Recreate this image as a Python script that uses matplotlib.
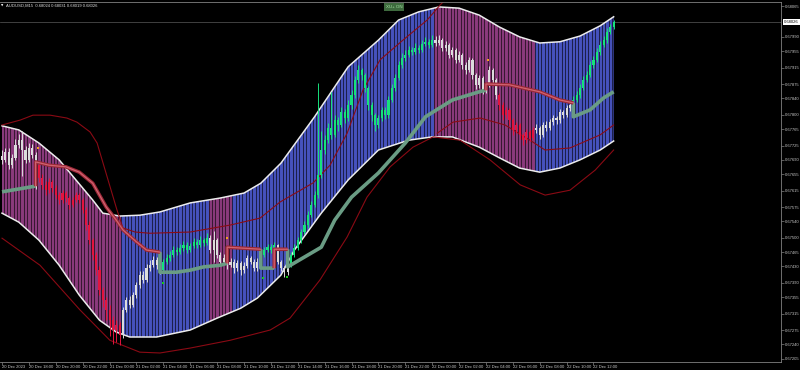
import matplotlib
matplotlib.use("Agg")
import numpy as np
import matplotlib.pyplot as plt
from matplotlib.patches import Polygon

# ---- candles (AUDUSD M15, 20 Dec 16:00 -> 22 Dec 13:30) ----
first_open = 0.67700
closes = [
    0.67690, 0.67709, 0.67677, 0.67695, 0.67726, 0.67738, 0.67714, 0.67690, 0.67719, 0.67702,
    0.67677, 0.67646, 0.67629, 0.67616, 0.67636, 0.67621, 0.67604, 0.67592, 0.67609, 0.67597,
    0.67580, 0.67592, 0.67604, 0.67592, 0.67568, 0.67531, 0.67494, 0.67458, 0.67421, 0.67372,
    0.67348, 0.67324, 0.67299, 0.67275, 0.67287, 0.67263, 0.67324, 0.67348, 0.67336, 0.67360,
    0.67385, 0.67409, 0.67397, 0.67426, 0.67433, 0.67446, 0.67433, 0.67421, 0.67441, 0.67450,
    0.67458, 0.67470, 0.67465, 0.67475, 0.67482, 0.67470, 0.67480, 0.67490, 0.67482, 0.67494,
    0.67487, 0.67499, 0.67470, 0.67494, 0.67458, 0.67441, 0.67450, 0.67433, 0.67441, 0.67426,
    0.67438, 0.67421, 0.67431, 0.67450, 0.67441, 0.67426, 0.67441, 0.67458, 0.67470, 0.67477,
    0.67470, 0.67482, 0.67441, 0.67426, 0.67416, 0.67433, 0.67458, 0.67475, 0.67494, 0.67514,
    0.67531, 0.67555, 0.67580, 0.67604, 0.67653, 0.67714, 0.67738, 0.67768, 0.67751, 0.67787,
    0.67775, 0.67807, 0.67792, 0.67824, 0.67848, 0.67885, 0.67909, 0.67897, 0.67865, 0.67824,
    0.67799, 0.67775, 0.67792, 0.67812, 0.67799, 0.67836, 0.67865, 0.67890, 0.67921, 0.67938,
    0.67946, 0.67958, 0.67953, 0.67963, 0.67958, 0.67973, 0.67978, 0.67970, 0.67982, 0.67975,
    0.67982, 0.67963, 0.67970, 0.67946, 0.67958, 0.67934, 0.67946, 0.67921, 0.67909, 0.67934,
    0.67897, 0.67873, 0.67890, 0.67860, 0.67873, 0.67909, 0.67885, 0.67848, 0.67824, 0.67799,
    0.67812, 0.67787, 0.67763, 0.67775, 0.67751, 0.67738, 0.67758, 0.67743, 0.67763, 0.67768,
    0.67751, 0.67775, 0.67768, 0.67782, 0.67792, 0.67787, 0.67807, 0.67799, 0.67816, 0.67824,
    0.67836, 0.67848, 0.67865, 0.67885, 0.67897, 0.67921, 0.67934, 0.67953, 0.67970, 0.67982,
    0.68002, 0.68014, 0.68026,
]
highs = [
    0.67715, 0.67720, 0.67718, 0.67705, 0.67740, 0.67752, 0.67760, 0.67725, 0.67730, 0.67728,
    0.67710, 0.67682, 0.67655, 0.67638, 0.67645, 0.67642, 0.67628, 0.67612, 0.67616, 0.67615,
    0.67603, 0.67600, 0.67612, 0.67610, 0.67598, 0.67575, 0.67540, 0.67500, 0.67465, 0.67430,
    0.67380, 0.67355, 0.67335, 0.67310, 0.67300, 0.67295, 0.67330, 0.67355, 0.67358, 0.67368,
    0.67392, 0.67418, 0.67420, 0.67435, 0.67445, 0.67455, 0.67452, 0.67440, 0.67448, 0.67460,
    0.67468, 0.67480, 0.67478, 0.67486, 0.67492, 0.67490, 0.67488, 0.67500, 0.67496, 0.67505,
    0.67500, 0.67512, 0.67506, 0.67516, 0.67500, 0.67465, 0.67460, 0.67456, 0.67450, 0.67448,
    0.67445, 0.67444, 0.67440, 0.67458, 0.67456, 0.67448, 0.67450, 0.67466, 0.67478, 0.67486,
    0.67484, 0.67490, 0.67486, 0.67446, 0.67432, 0.67440, 0.67465, 0.67484, 0.67502, 0.67522,
    0.67540, 0.67565, 0.67590, 0.67615, 0.67878, 0.67760, 0.67750, 0.67780, 0.67855, 0.67800,
    0.67795, 0.67820, 0.67815, 0.67835, 0.67860, 0.67895, 0.67922, 0.67915, 0.67902, 0.67870,
    0.67830, 0.67805, 0.67800, 0.67820, 0.67818, 0.67845, 0.67875, 0.67900, 0.67932, 0.67950,
    0.67958, 0.67968, 0.67965, 0.67975, 0.67970, 0.67982, 0.67990, 0.67985, 0.67995, 0.67992,
    0.67995, 0.67988, 0.67980, 0.67975, 0.67966, 0.67962, 0.67955, 0.67950, 0.67928, 0.67940,
    0.67938, 0.67902, 0.67898, 0.67895, 0.67880, 0.67918, 0.67914, 0.67890, 0.67852, 0.67830,
    0.67820, 0.67816, 0.67792, 0.67782, 0.67780, 0.67756, 0.67765, 0.67762, 0.67770, 0.67778,
    0.67772, 0.67782, 0.67785, 0.67790, 0.67800, 0.67798, 0.67815, 0.67812, 0.67825, 0.67832,
    0.67845, 0.67858, 0.67875, 0.67894, 0.67906, 0.67930, 0.67944, 0.67962, 0.67980, 0.67992,
    0.68012, 0.68022, 0.68031,
]
lows = [
    0.67680, 0.67684, 0.67668, 0.67670, 0.67690, 0.67720, 0.67650, 0.67682, 0.67685, 0.67695,
    0.67620, 0.67636, 0.67620, 0.67605, 0.67610, 0.67612, 0.67596, 0.67582, 0.67585, 0.67588,
    0.67570, 0.67575, 0.67588, 0.67585, 0.67560, 0.67520, 0.67485, 0.67445, 0.67410, 0.67360,
    0.67330, 0.67300, 0.67260, 0.67240, 0.67245, 0.67238, 0.67255, 0.67318, 0.67328, 0.67330,
    0.67352, 0.67378, 0.67390, 0.67392, 0.67420, 0.67428, 0.67425, 0.67412, 0.67415, 0.67436,
    0.67444, 0.67452, 0.67458, 0.67460, 0.67468, 0.67462, 0.67465, 0.67474, 0.67475, 0.67478,
    0.67480, 0.67482, 0.67462, 0.67440, 0.67450, 0.67430, 0.67435, 0.67425, 0.67428, 0.67415,
    0.67418, 0.67410, 0.67415, 0.67426, 0.67435, 0.67418, 0.67420, 0.67436, 0.67452, 0.67465,
    0.67462, 0.67466, 0.67435, 0.67418, 0.67405, 0.67410, 0.67428, 0.67452, 0.67470, 0.67488,
    0.67508, 0.67525, 0.67550, 0.67575, 0.67598, 0.67645, 0.67705, 0.67730, 0.67740, 0.67745,
    0.67760, 0.67770, 0.67780, 0.67785, 0.67815, 0.67840, 0.67878, 0.67885, 0.67855, 0.67812,
    0.67785, 0.67760, 0.67768, 0.67785, 0.67790, 0.67792, 0.67830, 0.67858, 0.67885, 0.67915,
    0.67930, 0.67940, 0.67945, 0.67948, 0.67950, 0.67952, 0.67968, 0.67962, 0.67965, 0.67968,
    0.67970, 0.67955, 0.67956, 0.67938, 0.67940, 0.67926, 0.67928, 0.67912, 0.67900, 0.67904,
    0.67888, 0.67862, 0.67866, 0.67850, 0.67852, 0.67868, 0.67876, 0.67838, 0.67812, 0.67788,
    0.67792, 0.67775, 0.67750, 0.67755, 0.67740, 0.67726, 0.67732, 0.67735, 0.67738, 0.67755,
    0.67742, 0.67745, 0.67760, 0.67762, 0.67776, 0.67778, 0.67780, 0.67792, 0.67794, 0.67810,
    0.67818, 0.67830, 0.67842, 0.67860, 0.67880, 0.67892, 0.67915, 0.67928, 0.67946, 0.67965,
    0.67976, 0.67996, 0.68010,
]
# candle colour runs: w = white, r = red, g = green
candle_color_runs = [("w", 11), ("r", 25), ("w", 12), ("g", 14), ("w", 16), ("g", 4),
                     ("w", 4), ("g", 43), ("w", 19), ("r", 11), ("w", 11), ("g", 13)]

# ---- channel (white edges) ----
upper_idx = [0, 5, 11, 17, 22, 27, 30, 35, 41, 47, 56, 65, 72, 77, 83, 93, 103, 112, 118,
             124, 130, 136, 142, 148, 154, 160, 166, 172, 178, 182]
upper_px = [0.67773, 0.67763, 0.67731, 0.67690, 0.67641, 0.67592, 0.67560, 0.67553, 0.67555,
            0.67563, 0.67585, 0.67597, 0.67609, 0.67633, 0.67682, 0.67795, 0.67917, 0.67982,
            0.68031, 0.68051, 0.68063, 0.68060, 0.68043, 0.68014, 0.67990, 0.67975, 0.67978,
            0.67992, 0.68017, 0.68039]
lower_idx = [0, 5, 11, 17, 23, 29, 34, 38, 46, 56, 64, 71, 76, 83, 87, 95, 103, 112, 121,
             128, 134, 142, 148, 154, 160, 166, 172, 178, 182]
lower_px = [0.67560, 0.67538, 0.67494, 0.67433, 0.67360, 0.67299, 0.67270, 0.67258, 0.67258,
            0.67275, 0.67304, 0.67328, 0.67353, 0.67409, 0.67470, 0.67560, 0.67641, 0.67714,
            0.67738, 0.67746, 0.67746, 0.67721, 0.67695, 0.67670, 0.67660, 0.67670, 0.67690,
            0.67714, 0.67736]
# bars where the channel is drawn magenta (otherwise blue)
magenta_spans = [(-0.6, 35.5), (61.5, 68.5), (128.5, 158.5)]

# ---- thin dark red lines ----
a_idx = [0, 5.4, 9.2, 14.3, 19.3, 22.3, 26.2, 28.3, 31.3, 34.2, 36, 39.6, 44, 56, 67.9, 76.8,
         82.7, 92.6, 97.6, 102.7, 107.4, 112.5, 119.3, 126.5, 130.4, 133.3]
a_px = [0.67775, 0.67787, 0.67799, 0.67799, 0.67792, 0.67782, 0.67758, 0.67731, 0.67648,
        0.67568, 0.67524, 0.67514, 0.67511, 0.67514, 0.67531, 0.67548, 0.67587, 0.67634,
        0.67677, 0.67755, 0.67860, 0.67934, 0.67982, 0.68031, 0.68068, 0.68092]
b_idx = [0, 11.3, 23.2, 32.1, 41, 47, 56, 67.9, 79.8, 85.7, 94.6, 102.7, 108.6, 115.5, 122.3,
         128.3, 136.3, 145.2, 154.2, 161.6, 169, 176.5, 182]
b_px = [0.67499, 0.67433, 0.67324, 0.67250, 0.67221, 0.67219, 0.67231, 0.67250, 0.67275,
        0.67304, 0.67397, 0.67502, 0.67599, 0.67673, 0.67721, 0.67746, 0.67738, 0.67690,
        0.67629, 0.67604, 0.67616, 0.67665, 0.67714]
c_idx = [129.5, 134.2, 142.3, 149.7, 157.1, 161.6, 169, 178, 182]
c_px = [0.67755, 0.67782, 0.67792, 0.67775, 0.67738, 0.67714, 0.67719, 0.67751, 0.67775]

# ---- thick trend line (green = up, red = down), nan = break ----
nan = float("nan")
up_idx = [0, 10, nan, 47, 47, 52, 56, 60, 65, 67, nan, 77, 77, 81, nan, 85, 85, 95, 99, 104,
          112, 120, 126, 134, 142, 144, nan, 170, 170, 175, 179, 182]
up_px = [0.67612, 0.67626, nan, 0.67465, 0.67416, 0.67416, 0.67421, 0.67429, 0.67433, 0.67438,
         nan, 0.67472, 0.67426, 0.67426, nan, 0.67472, 0.67429, 0.67477, 0.67543, 0.67599,
         0.67658, 0.67731, 0.67795, 0.67836, 0.67856, 0.67860, nan, 0.67829, 0.67795, 0.67812,
         0.67841, 0.67856]
dn_idx = [10, 10, 14, 19, 23, 27, 31, 34, 36, 40, 43, 47, nan, 67, 67, 77, nan, 81, 81, 85,
          nan, 144, 144, 151, 160, 166, 170]
dn_px = [0.67626, 0.67685, 0.67677, 0.67673, 0.67660, 0.67633, 0.67575, 0.67543, 0.67519,
         0.67490, 0.67470, 0.67465, nan, 0.67438, 0.67477, 0.67472, nan, 0.67426, 0.67472,
         0.67472, nan, 0.67860, 0.67875, 0.67873, 0.67856, 0.67836, 0.67829]

# ---- signal dots ----
orange_idx = [10.7, 67, 144.6]
orange_px = [0.67719, 0.67499, 0.67934]
green_dot_idx = [48, 77.7, 84.8]
green_dot_px = [0.67390, 0.67402, 0.67404]

# ---- axes labels ----
price_ticks = ["0.68065", "0.67990", "0.67955", "0.67915", "0.67875", "0.67840", "0.67800",
               "0.67765", "0.67725", "0.67690", "0.67655", "0.67615", "0.67575", "0.67540",
               "0.67500", "0.67465", "0.67430", "0.67390", "0.67355", "0.67315", "0.67275",
               "0.67240", "0.67205"]
time_tick_idx = list(range(0, 177, 8))
time_labels = ["20 Dec 2023", "20 Dec 18:00", "20 Dec 20:00", "20 Dec 22:00", "21 Dec 00:00",
               "21 Dec 02:00", "21 Dec 04:00", "21 Dec 06:00", "21 Dec 08:00", "21 Dec 10:00",
               "21 Dec 12:00", "21 Dec 14:00", "21 Dec 16:00", "21 Dec 18:00", "21 Dec 20:00",
               "21 Dec 22:00", "22 Dec 00:00", "22 Dec 02:00", "22 Dec 04:00", "22 Dec 06:00",
               "22 Dec 08:00", "22 Dec 10:00", "22 Dec 12:00"]
last_price = 0.68026
title = "AUDUSD,M15  0.68024 0.68031 0.68019 0.68026"

BLUE = "#4652bd"
MAGENTA = "#8a3a7c"
AXIS = "#808080"
FONT = "Liberation Sans"

fig = plt.figure(figsize=(8, 3.7), dpi=100, facecolor="black")
ax = fig.add_axes([0, 8 / 370, 781 / 800, 360 / 370])
ax.set_facecolor("black")
ax.set_xlim(-0.6, 231.8)
ax.set_ylim(0.67197, 0.68075)

# bid line (under the channel)
ax.axhline(last_price, color="#5a5a5a", lw=0.5, zorder=0.5)

# channel fill with per-bar stripes
verts = list(zip(upper_idx, upper_px)) + list(zip(lower_idx[::-1], lower_px[::-1]))
band = Polygon(verts, closed=True, facecolor=BLUE, edgecolor="none", zorder=1)
ax.add_patch(band)
for a, b in magenta_spans:
    span = ax.axvspan(a, b, color=MAGENTA, lw=0, zorder=1.1)
    span.set_clip_path(band)
stripes = ax.vlines(np.arange(-0.5, len(closes)), 0.671, 0.681, colors="black",
                    alpha=0.6, lw=0.75, zorder=1.2)
stripes.set_clip_path(band)
ax.plot(upper_idx, upper_px, color="#ececec", lw=1.1, zorder=2)
ax.plot(lower_idx, lower_px, color="#ececec", lw=1.1, zorder=2)

# thin red lines
for xs, ys in [(a_idx, a_px), (b_idx, b_px), (c_idx, c_px)]:
    ax.plot(xs, ys, color="#8a0a14", lw=0.8, zorder=2.5)

# candles
cmap = {"w": "#dcdcdc", "g": "#16e27c", "r": "#e3143e"}
codes = "".join(c * n for c, n in candle_color_runs)
cols = [cmap[c] for c in codes]
idx = np.arange(len(closes))
c_arr = np.array(closes)
o_arr = np.r_[first_open, c_arr[:-1]]
ax.vlines(idx, lows, highs, colors=cols, lw=0.7, zorder=3)
body = np.maximum(np.abs(c_arr - o_arr), 0.00002)
ax.bar(idx, body, bottom=np.minimum(o_arr, c_arr), width=0.62, color=cols, lw=0, zorder=3)

# thick trend line
ax.plot(up_idx, up_px, color="#6a9c84", lw=2.6, zorder=4, solid_capstyle="butt")
ax.plot(dn_idx, dn_px, color="#9c2838", lw=2.6, zorder=4, solid_capstyle="butt")
ax.plot(dn_idx, dn_px, color="#cf6470", lw=0.9, zorder=4.1)

# signal dots
ax.scatter(orange_idx, orange_px, marker="s", s=3, color="#f0a020", zorder=5, lw=0)
ax.scatter(green_dot_idx, green_dot_px, marker="s", s=3, color="#18c818", zorder=5, lw=0)

# axes styling
for side in ["top", "right", "bottom"]:
    ax.spines[side].set_color(AXIS)
    ax.spines[side].set_linewidth(0.6)
ax.spines["left"].set_visible(False)
ax.yaxis.tick_right()
ax.set_yticks([float(t) for t in price_ticks])
ax.set_yticklabels(price_ticks, fontfamily=FONT)
ax.set_xticks(time_tick_idx)
ax.set_xticklabels(time_labels, fontfamily=FONT)
for lbl in ax.get_xticklabels():
    lbl.set_horizontalalignment("left")
ax.tick_params(axis="y", length=2, width=0.5, color=AXIS, labelsize=3, labelcolor="#c8c8c8", pad=1)
ax.tick_params(axis="x", length=2, width=0.5, color=AXIS, labelsize=3, labelcolor="#c8c8c8", pad=0.5)

# current price box
ax.text(1.004, last_price, f"{last_price:.5f}", transform=ax.get_yaxis_transform(),
        ha="left", va="center", fontsize=3, color="black", fontfamily=FONT,
        bbox=dict(boxstyle="square,pad=0.2", fc="white", ec="none"), clip_on=False, zorder=6)

# title and indicator label
ax.text(0.0015, 0.990, "\u25bc", transform=ax.transAxes, fontsize=2.2, color="white",
        ha="left", va="center", zorder=6)
ax.text(0.008, 0.990, title, transform=ax.transAxes, fontsize=3, color="#e0e0e0",
        ha="left", va="center", fontfamily=FONT, zorder=6)
ax.text(394 / 781, 0.986, "XU+ ON", transform=ax.transAxes, fontsize=3.2, color="#a6e6a6",
        ha="center", va="center", fontfamily=FONT, zorder=6,
        bbox=dict(boxstyle="square,pad=0.35", fc="#3e6a3e", ec="none"))

fig.savefig("out.png", dpi=100, facecolor="black")
